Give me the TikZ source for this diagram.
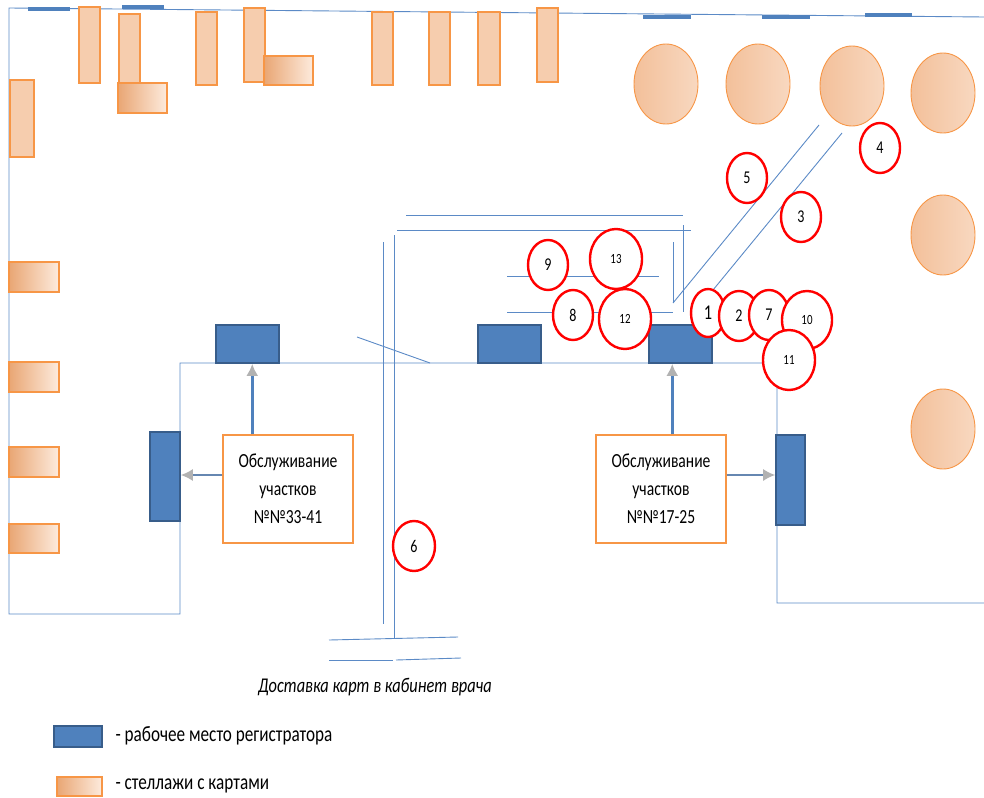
\documentclass[tikz,border=0pt]{standalone}
\usepackage{fontspec}
\setmainfont{Carlito}[FakeStretch=0.78]
\usepackage{tikz}
\usetikzlibrary{arrows.meta,shapes.geometric}
\definecolor{deskblue}{HTML}{4F81BD}
\definecolor{deskedge}{HTML}{385D8A}
\definecolor{wallblue}{HTML}{5B8AC6}
\definecolor{shelfedge}{HTML}{F79646}
\definecolor{shelffill}{HTML}{F6CDAE}
\definecolor{shelfdark}{HTML}{E9A674}
\definecolor{shelflight}{HTML}{FDEBDD}
\definecolor{tabledark}{HTML}{F3C09A}
\definecolor{tablelight}{HTML}{F8D8C0}
\tikzset{
	wall/.style={draw=wallblue, line width=0.9pt},
	window/.style={draw=deskblue, line width=3.5pt},
	desk/.style={draw=deskedge, fill=deskblue, line width=1.6pt, inner sep=0pt},
	shelf/.style={draw=shelfedge, fill=shelffill, line width=1.1pt},
	shelfgrad/.style={draw=shelfedge, line width=1.1pt, left color=shelfdark, right color=shelflight},
	tablet/.style={ellipse, draw=shelfedge, line width=0.9pt, left color=tabledark, right color=tablelight, minimum width=64pt, minimum height=80pt},
	spot/.style={ellipse, draw=red, line width=2.4pt, fill=white, inner sep=0pt, minimum width=40pt, minimum height=50pt, font=\fontsize{18}{18}\selectfont},
	spotsmall/.style={spot, minimum width=52pt, minimum height=60pt, font=\fontsize{14}{14}\selectfont},
	card/.style={draw=shelfedge, fill=white, line width=1.5pt, minimum width=130pt, minimum height=108pt, align=center, inner sep=0pt, font=\fontsize{20}{28}\selectfont},
	feed/.style={draw=deskblue, line width=2.6pt, -{Latex[length=12pt,width=12pt,color=gray!60]}},
	feedthin/.style={draw=wallblue!70!gray, line width=1.6pt, -{Latex[length=12pt,width=12pt,color=gray!60]}},
	legendtext/.style={anchor=west, font=\fontsize{22}{22}\selectfont}
}
\begin{document}
\begin{tikzpicture}[x=1pt, y=-1pt]
			%%%%% START %%%%%
			\useasboundingbox (0,0) rectangle (984,797);
			
			% walls
			\draw[wall] (984,17) -- (9,8) -- (9,614) -- (180,614) -- (180,363) -- (777,363) -- (777,603) -- (984,603);
			\draw[window] (28,9) -- (70,9);
			\draw[window] (122,7) -- (164,7);
			\draw[window] (643,17) -- (691,17);
			\draw[window] (762,17) -- (810,17);
			\draw[window] (865,15) -- (912,15);
			
			% corridor
			\draw[wall] (383,242) -- (383,624);
			\draw[wall] (394,235) -- (394,638);
			\draw[wall] (329,640) -- (458,637);
			\draw[wall] (329,660) -- (393,660);
			\draw[wall] (396,660) -- (461,658);
			\draw[wall] (357,337) -- (430,363);
			\draw[wall] (406,215) -- (683,215);
			\draw[wall] (397,230) -- (691,230);
			\draw[wall] (683,225) -- (683,312);
			\draw[wall] (673,242) -- (673,303);
			\draw[wall] (673,303) -- (819,125);
			\draw[wall] (713,290) -- (842,133);
			\draw[wall] (507,276) -- (659,276);
			\draw[wall] (507,312) -- (673,312);
			
			% shelves
			\draw[shelf] (79,7) rectangle (100,83);
			\draw[shelf] (119,14) rectangle (140,83);
			\draw[shelfgrad] (118,83) rectangle (167,113);
			\draw[shelf] (196,12) rectangle (217,85);
			\draw[shelf] (244,8) rectangle (265,82);
			\draw[shelfgrad] (264,56) rectangle (313,85);
			\draw[shelf] (372,12) rectangle (393,85);
			\draw[shelf] (429,12) rectangle (450,85);
			\draw[shelf] (478,12) rectangle (500,85);
			\draw[shelf] (537,8) rectangle (558,82);
			\draw[shelf] (10,80) rectangle (34,157);
			\draw[shelfgrad] (9,262) rectangle (59,292);
			\draw[shelfgrad] (9,362) rectangle (59,392);
			\draw[shelfgrad] (9,447) rectangle (59,477);
			\draw[shelfgrad] (9,524) rectangle (59,553);
			
			% tables
			\node[tablet] (table1) at (666,84) {};
			\node[tablet] (table2) at (758,84) {};
			\node[tablet] (table3) at (852,86) {};
			\node[tablet] (table4) at (943,93) {};
			\node[tablet] (table5) at (943,235) {};
			\node[tablet] (table6) at (943,429) {};
			
			% registrars
			\node[desk, minimum width=63pt, minimum height=38pt] (deskA) at (247.5,344) {};
			\node[desk, minimum width=30pt, minimum height=89pt] (deskB) at (165,476.5) {};
			\node[desk, minimum width=63pt, minimum height=38pt] (deskC) at (509.5,344) {};
			\node[desk, minimum width=63pt, minimum height=38pt] (deskD) at (680.5,344) {};
			\node[desk, minimum width=29pt, minimum height=90pt] (deskE) at (790.5,480) {};
			
			\node[card] (serveA) at (288,489) {Обслуживание\\участков\\№№33-41};
			\node[card] (serveB) at (661,489) {Обслуживание\\участков\\№№17-25};
			\draw[feed] ([xshift=30pt]serveA.north west) -- ([xshift=30pt]serveA.north west |- deskA.south);
			\draw[feedthin] ([yshift=14pt]serveA.west) -- ([yshift=14pt]serveA.west -| deskB.east);
			\draw[feed] ([xshift=77pt]serveB.north west) -- ([xshift=77pt]serveB.north west |- deskD.south);
			\draw[feedthin] ([yshift=14pt]serveB.east) -- ([yshift=14pt]serveB.east -| deskE.west);
			
			% numbered places
			\node[spot] (spot9) at (548,265) {9};
			\node[spotsmall] (spot13) at (616,259) {13};
			\node[spot] (spot8) at (573,315) {8};
			\node[spotsmall] (spot12) at (625,319) {12};
			\node[spot, minimum width=34pt, minimum height=48pt, font=\fontsize{21}{21}\selectfont] (spot1) at (708,313) {1};
			\node[spot] (spot2) at (739,316) {2};
			\node[spot] (spot7) at (769,315) {7};
			\node[spotsmall, minimum width=50pt, minimum height=58pt] (spot10) at (807,320) {10};
			\node[spotsmall] (spot11) at (789,360) {11};
			\node[spot] (spot3) at (801,217) {3};
			\node[spot] (spot4) at (880,148) {4};
			\node[spot] (spot5) at (747,178) {5};
			\node[spot, minimum width=42pt] (spot6) at (414,546) {6};
			
			\node[font=\fontsize{21}{21}\selectfont\itshape] (route) at (375,687) {Доставка карт в кабинет врача};
			
			% legend
			\node[desk, minimum width=48pt, minimum height=21pt] (keydesk) at (78,736.5) {};
			\node[legendtext] (keydesktext) at (112,736) {- рабочее место регистратора};
			\draw[shelfgrad] (57,777) rectangle (102,796);
			\node[legendtext] (keyshelftext) at (112,786) {- стеллажи с картами};
			
			%%%%% END %%%%%
\end{tikzpicture}
\end{document}
